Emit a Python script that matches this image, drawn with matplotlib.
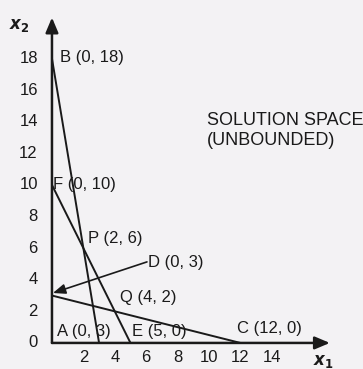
import numpy as np
import matplotlib
matplotlib.use("Agg")
import matplotlib.pyplot as plt

# Constraint lines, each given by its two intercept points
line_b = [(0, 18), (3, 0)]     # 6x1 + x2 = 18
line_f = [(0, 10), (5, 0)]     # 2x1 + x2 = 10
line_a = [(0, 3), (12, 0)]     # x1 + 4x2 = 12

y_ticks = [0, 2, 4, 6, 8, 10, 12, 14, 16, 18]
x_ticks = [2, 4, 6, 8, 10, 12, 14]

# point labels: (text, x, y)
point_labels = [
    ("B (0, 18)", 0.5, 18.1),
    ("F (0, 10)", 0.05, 10.0),
    ("P (2, 6)", 2.3, 6.6),
    ("D (0, 3)", 6.1, 5.1),
    ("Q (4, 2)", 4.35, 2.9),
    ("A (0, 3)", 0.35, 0.7),
    ("E (5, 0)", 5.1, 0.7),
    ("C (12, 0)", 11.8, 0.9),
]

BG = "#f3f2f4"
INK = "#1a1a1a"
FS = 12

plt.rcParams["font.family"] = ["Liberation Sans", "DejaVu Sans"]

fig = plt.figure(figsize=(3.63, 3.69), dpi=100, facecolor=BG)
ax = fig.add_axes([0, 0, 1, 1])
ax.set_facecolor(BG)
ax.set_xlim(-3.31, 19.81)
ax.set_ylim(-1.65, 21.71)
ax.axis("off")

# axes drawn as arrows
head = "-|>,head_length=0.9,head_width=0.38"
ax.annotate("", xy=(17.7, 0), xytext=(0, 0),
            arrowprops=dict(arrowstyle=head, color=INK, lw=1.8,
                            shrinkA=0, shrinkB=0))
ax.annotate("", xy=(0, 20.6), xytext=(0, 0),
            arrowprops=dict(arrowstyle=head, color=INK, lw=1.8,
                            shrinkA=0, shrinkB=0))

for seg in (line_b, line_f, line_a):
    xs, ys = zip(*seg)
    ax.plot(xs, ys, color=INK, lw=1.4, solid_capstyle="butt")

# pointer from D label to the A corner
ax.annotate("", xy=(0.06, 3.16), xytext=(6.05, 5.13),
            arrowprops=dict(arrowstyle="-|>,head_length=0.75,head_width=0.3",
                            color=INK, lw=1.2, shrinkA=0, shrinkB=0))

for t in y_ticks:
    ax.text(-0.9, t, str(t), ha="right", va="center", fontsize=FS, color=INK)
for t in x_ticks:
    ax.text(t, -0.45, str(t), ha="center", va="top", fontsize=FS, color=INK)

for txt, x, y in point_labels:
    ax.text(x, y, txt, ha="left", va="center", fontsize=FS, color=INK)

ax.text(9.85, 13.45, "SOLUTION SPACE\n(UNBOUNDED)", ha="left", va="center",
        fontsize=13, color=INK, linespacing=1.25)

ax.text(-2.05, 20.1, r"$\boldsymbol{x}_{\mathbf{2}}$", fontsize=12,
        ha="center", va="center", color=INK)
ax.text(17.3, -1.2, r"$\boldsymbol{x}_{\mathbf{1}}$", fontsize=12,
        ha="center", va="center", color=INK)

fig.savefig("out.png", dpi=100, facecolor=BG)
